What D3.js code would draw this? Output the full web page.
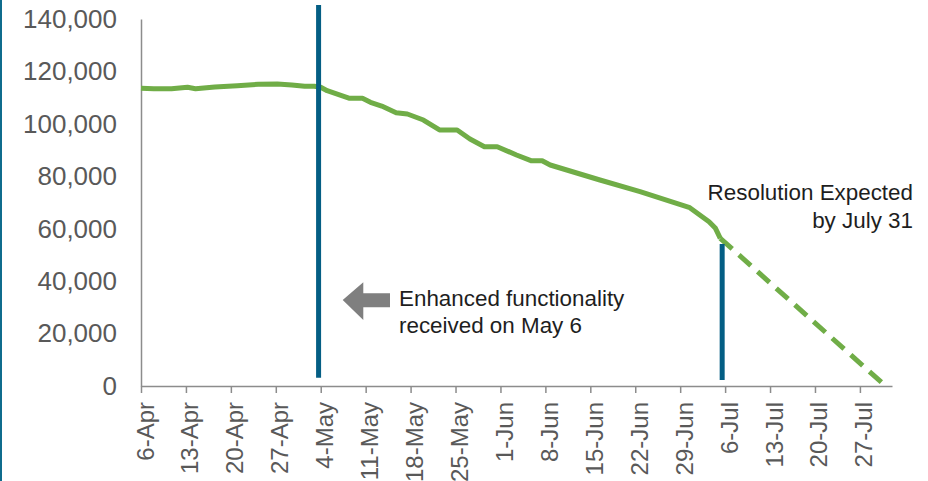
<!DOCTYPE html>
<html>
<head>
<meta charset="utf-8">
<script src="https://cdn.jsdelivr.net/npm/d3@7"></script>
<style>
  html, body { margin: 0; padding: 0; background: #ffffff; }
  svg { display: block; font-family: "Liberation Sans", Arial, sans-serif; }
</style>
</head>
<body>
<svg id="chart" width="928" height="481"></svg>
<script>
// Open backlog, daily counts (2020)
const actualDates = [
  "2020-04-06 00:00", "2020-04-08 00:00", "2020-04-10 18:00", "2020-04-13 06:00",
  "2020-04-14 12:00", "2020-04-17 12:00", "2020-04-21 00:00", "2020-04-24 06:00",
  "2020-04-27 06:00", "2020-04-29 12:00", "2020-05-01 12:00", "2020-05-03 00:00",
  "2020-05-04 00:00", "2020-05-05 00:00", "2020-05-08 12:00", "2020-05-10 12:00",
  "2020-05-11 18:00", "2020-05-13 12:00", "2020-05-15 18:00", "2020-05-17 12:00",
  "2020-05-20 00:00", "2020-05-22 12:00", "2020-05-25 06:00", "2020-05-27 06:00",
  "2020-05-29 12:00", "2020-05-31 12:00", "2020-06-03 12:00", "2020-06-05 18:00",
  "2020-06-07 12:00", "2020-06-08 18:00", "2020-06-16 12:00", "2020-06-22 18:00",
  "2020-06-30 12:00", "2020-07-03 12:00", "2020-07-04 12:00", "2020-07-05 06:00"
];
const actualValues = [
  113600, 113400, 113400, 113950,
  113400, 114060, 114560, 115090,
  115200, 114830, 114330, 114330,
  113950, 112650, 109750, 109750,
  108230, 106810, 104260, 103760,
  101470, 97660, 97660, 94220,
  91290, 91290, 88120, 85950,
  85950, 84300, 78580, 74120,
  68020, 62680, 60160, 56340
];

// Projected path to resolution
const forecastDates = ["2020-07-05 06:00", "2020-07-31 00:00"];
const forecastValues = [56340, 0];

// Event markers (vertical bars)
const markerDates = ["2020-05-03 16:00", "2020-07-05 13:00"];
const markerTops = [145300, 54200];
const markerBottoms = [3100, 2300];

// Axis ticks and labels
const xDomain = ["2020-04-06 00:00", "2020-08-01 00:00"];
const xTickDates = [
  "2020-04-06 00:00", "2020-04-13 00:00", "2020-04-20 00:00", "2020-04-27 00:00",
  "2020-05-04 00:00", "2020-05-11 00:00", "2020-05-18 00:00", "2020-05-25 00:00",
  "2020-06-01 00:00", "2020-06-08 00:00", "2020-06-15 00:00", "2020-06-22 00:00",
  "2020-06-29 00:00", "2020-07-06 00:00", "2020-07-13 00:00", "2020-07-20 00:00",
  "2020-07-27 00:00"
];
const xTickLabels = [
  "6-Apr", "13-Apr", "20-Apr", "27-Apr", "4-May", "11-May", "18-May", "25-May",
  "1-Jun", "8-Jun", "15-Jun", "22-Jun", "29-Jun", "6-Jul", "13-Jul", "20-Jul", "27-Jul"
];
const yTicks = [0, 20000, 40000, 60000, 80000, 100000, 120000, 140000];

const noteEvent = ["Enhanced functionality", "received on May 6"];
const noteResolution = ["Resolution Expected", "by July 31"];

// ---- drawing ----
const parse = d3.timeParse("%Y-%m-%d %H:%M");
const svg = d3.select("#chart");

const GREEN = "#70AD47";
const BLUE = "#045E84";
const AXIS = "#8c8c8c";
const TICK_TEXT = "#595959";
const NOTE_TEXT = "#1e1e1e";

// frame accent on the left edge
svg.append("rect").attr("x", 0).attr("y", 0).attr("width", 2).attr("height", 481)
  .attr("fill", "#0f6c8d");

const x = d3.scaleTime().domain(xDomain.map(parse)).range([141, 892]);
const y = d3.scaleLinear().domain([0, 140000]).range([386, 19]);

// y axis: labels only, plain line
const yAxis = svg.append("g").attr("transform", `translate(${x.range()[0]},0)`)
  .call(d3.axisLeft(y).tickValues(yTicks).tickSize(0).tickPadding(24)
    .tickFormat(d3.format(",")));
yAxis.select(".domain").attr("stroke", AXIS).attr("stroke-width", 1.5);
yAxis.selectAll("text").attr("fill", TICK_TEXT).attr("font-size", 26)
  .attr("font-family", "Liberation Sans, Arial, sans-serif");

// x axis with weekly ticks and vertical labels
const tickDates = xTickDates.map(parse);
const xAxis = svg.append("g").attr("transform", `translate(0,${y(0)})`)
  .call(d3.axisBottom(x).tickValues(tickDates).tickSize(7).tickSizeOuter(0)
    .tickFormat((d, i) => xTickLabels[i]));
xAxis.select(".domain").attr("stroke", AXIS).attr("stroke-width", 1.5);
xAxis.selectAll(".tick line").attr("stroke", AXIS).attr("stroke-width", 1.5);
xAxis.selectAll("text")
  .attr("fill", TICK_TEXT).attr("font-size", 24)
  .attr("font-family", "Liberation Sans, Arial, sans-serif")
  .attr("text-anchor", "end")
  .attr("transform", "rotate(-90)")
  .attr("x", -16).attr("y", 12).attr("dy", 0);

// actual series
const line = d3.line().x(d => x(d[0])).y(d => y(d[1]));
const actual = actualDates.map((d, i) => [parse(d), actualValues[i]]);
svg.append("path").datum(actual).attr("d", line)
  .attr("fill", "none").attr("stroke", GREEN).attr("stroke-width", 5)
  .attr("stroke-linejoin", "round");

// projection
const forecast = forecastDates.map((d, i) => [parse(d), forecastValues[i]]);
svg.append("path").datum(forecast).attr("d", line)
  .attr("fill", "none").attr("stroke", GREEN).attr("stroke-width", 5)
  .attr("stroke-dasharray", "16,9");

// event markers
svg.selectAll("line.marker").data(markerDates).join("line")
  .attr("class", "marker")
  .attr("x1", d => x(parse(d))).attr("x2", d => x(parse(d)))
  .attr("y1", (d, i) => y(markerTops[i])).attr("y2", (d, i) => y(markerBottoms[i]))
  .attr("stroke", BLUE).attr("stroke-width", 5);

// arrow pointing back to the first marker
svg.append("path")
  .attr("d", "M342.7,300 L363.3,282.3 L363.3,293.3 L390,293.3 L390,307.3 L363.3,307.3 L363.3,320 Z")
  .attr("fill", "#7f7f7f");

// annotations
const ev = svg.append("text").attr("x", 399).attr("y", 305.7)
  .attr("fill", NOTE_TEXT).attr("font-size", 22.4);
ev.selectAll("tspan").data(noteEvent).join("tspan")
  .attr("x", 399).attr("dy", (d, i) => i === 0 ? 0 : 27.6).text(d => d);

const rs = svg.append("text").attr("x", 913).attr("y", 200)
  .attr("fill", NOTE_TEXT).attr("font-size", 22.4).attr("text-anchor", "end");
rs.selectAll("tspan").data(noteResolution).join("tspan")
  .attr("x", 913).attr("dy", (d, i) => i === 0 ? 0 : 27.6).text(d => d);
</script>
</body>
</html>
